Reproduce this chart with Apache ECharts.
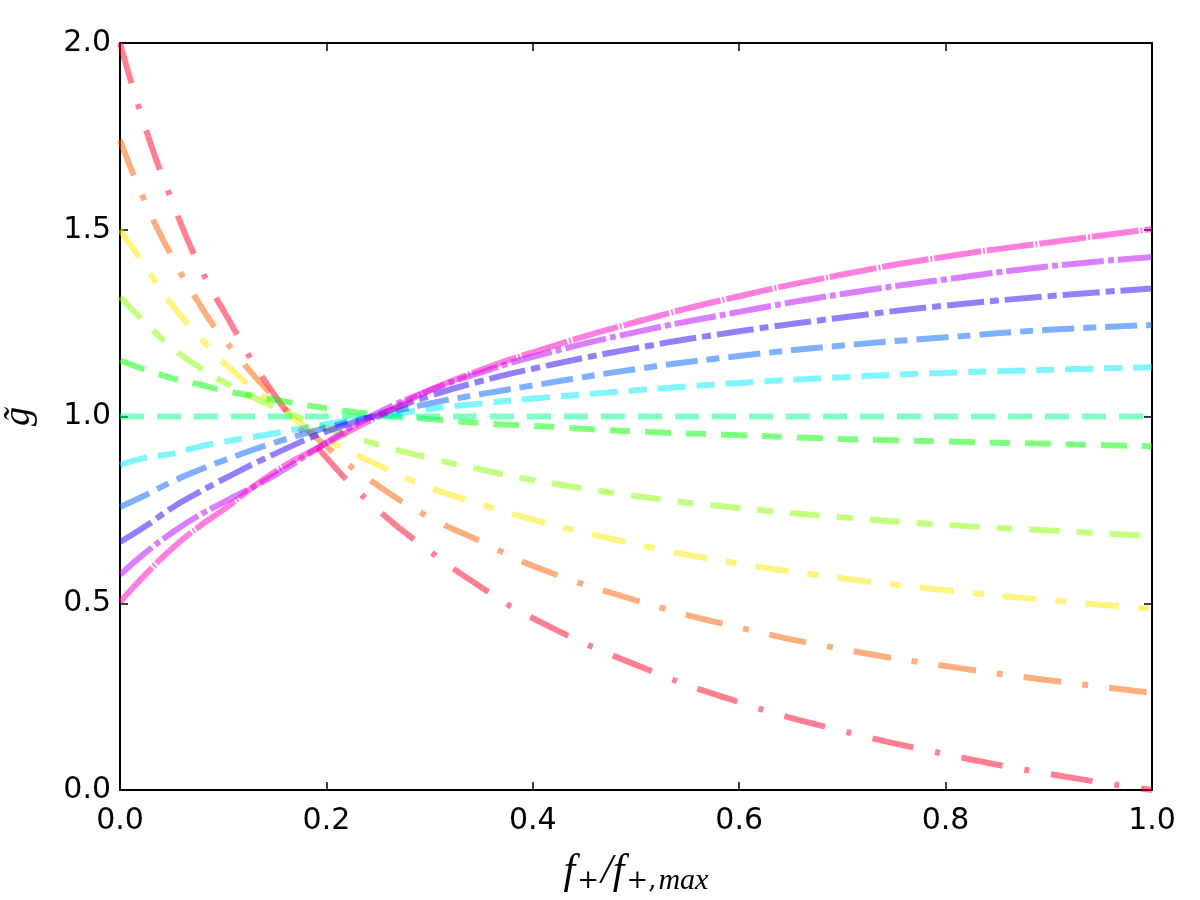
<!DOCTYPE html>
<html lang="en">
<head>
    <meta charset="UTF-8">
    <title>g tilde vs f+/f+,max</title>
    <script src="https://cdn.jsdelivr.net/npm/echarts@6/dist/echarts.min.js"></script>
    <style>
        html, body { margin: 0; padding: 0; background: #fff; }
        #main { width: 1200px; height: 900px; }
    </style>
</head>
<body>
<div id="main"></div>
<script>
    var fRatio = [0, 0.025, 0.05, 0.075, 0.1, 0.15, 0.2, 0.25, 0.3, 0.35, 0.4, 0.5, 0.6, 0.7, 0.8, 0.9, 1.0];

    // one list per curve, top-left (red) to bottom-left (magenta)
    var gRed     = [2.0, 1.77, 1.58, 1.415, 1.285, 1.057, 0.89, 0.75, 0.64, 0.543, 0.46, 0.335, 0.235, 0.158, 0.096, 0.043, 0.0];
    var gOrange  = [1.74, 1.57, 1.43, 1.31, 1.21, 1.05, 0.92, 0.815, 0.73, 0.665, 0.60, 0.508, 0.435, 0.377, 0.332, 0.294, 0.26];
    var gYellow  = [1.50, 1.40, 1.30, 1.22, 1.146, 1.03, 0.94, 0.87, 0.81, 0.765, 0.724, 0.658, 0.606, 0.567, 0.535, 0.508, 0.485];
    var gLime    = [1.32, 1.25, 1.185, 1.135, 1.093, 1.025, 0.97, 0.925, 0.889, 0.858, 0.83, 0.787, 0.755, 0.73, 0.71, 0.695, 0.68];
    var gGreen   = [1.15, 1.125, 1.103, 1.087, 1.07, 1.045, 1.022, 1.005, 0.993, 0.982, 0.975, 0.96, 0.95, 0.94, 0.933, 0.927, 0.92];
    var gSea     = [1.0, 1.0, 1.0, 1.0, 1.0, 1.0, 1.0, 1.0, 1.0, 1.0, 1.0, 1.0, 1.0, 1.0, 1.0, 1.0, 1.0];
    var gCyan    = [0.87, 0.89, 0.90, 0.918, 0.932, 0.955, 0.98, 1.0, 1.02, 1.035, 1.048, 1.07, 1.09, 1.105, 1.117, 1.125, 1.132];
    var gSky     = [0.758, 0.79, 0.825, 0.855, 0.882, 0.93, 0.97, 1.003, 1.035, 1.06, 1.083, 1.127, 1.162, 1.19, 1.212, 1.232, 1.245];
    var gViolet  = [0.664, 0.707, 0.755, 0.795, 0.832, 0.90, 0.96, 1.005, 1.055, 1.095, 1.128, 1.183, 1.228, 1.265, 1.297, 1.322, 1.343];
    var gPurple  = [0.576, 0.636, 0.688, 0.733, 0.77, 0.843, 0.93, 1.01, 1.07, 1.118, 1.16, 1.226, 1.28, 1.328, 1.367, 1.402, 1.427];
    var gMagenta = [0.503, 0.578, 0.645, 0.702, 0.75, 0.852, 0.928, 1.0, 1.07, 1.125, 1.172, 1.253, 1.322, 1.38, 1.428, 1.466, 1.502];

    var xTicks = [0, 0.2, 0.4, 0.6, 0.8, 1.0];
    var yTicks = [0, 0.5, 1.0, 1.5, 2.0];

    var curves = [gRed, gOrange, gYellow, gLime, gGreen, gSea, gCyan, gSky, gViolet, gPurple, gMagenta];

    // gist_rainbow style colours, half transparent
    var colors = [
        'rgba(255,0,40,0.5)', 'rgba(255,96,0,0.5)', 'rgba(255,234,0,0.5)', 'rgba(138,255,0,0.5)',
        'rgba(0,255,0,0.5)', 'rgba(0,255,137,0.5)', 'rgba(0,236,255,0.5)', 'rgba(0,97,255,0.5)',
        'rgba(42,0,255,0.5)', 'rgba(180,0,255,0.5)', 'rgba(255,0,191,0.5)'
    ];
    var dashes = [
        [42, 22, 5, 22], [38, 21, 6, 21], [34, 19, 11, 19], [30, 17, 16, 17],
        [26, 15, 20, 15], [24, 13], [28, 11, 18, 11], [32, 9, 13, 9],
        [37, 6, 9, 6], [42, 4, 6, 4], [47, 2, 2, 2]
    ];

    var series = [];
    for (var i = 0; i < curves.length; i++) {
        var pts = [];
        for (var j = 0; j < fRatio.length; j++) {
            pts.push([fRatio[j], curves[i][j]]);
        }
        series.push({
            type: 'line',
            data: pts,
            showSymbol: false,
            symbol: 'none',
            smooth: 0.5,
            lineStyle: { color: colors[i], width: 6, type: dashes[i], cap: 'butt' }
        });
    }

    var fmt = function (v) { return v.toFixed(1); };
    var tickFont = { fontFamily: 'DejaVu Sans', fontSize: 30, color: '#000' };
    var frameLine = { show: true, onZero: false, lineStyle: { color: '#000', width: 2 } };
    var tick = { show: true, inside: true, length: 8, lineStyle: { color: '#000', width: 1.5 } };

    var chart = echarts.init(document.getElementById('main'));
    chart.setOption({
        animation: false,
        backgroundColor: '#fff',
        grid: { left: 120, right: 48, top: 43, bottom: 110, containLabel: false, outerBoundsMode: 'none' },
        xAxis: [
            {
                type: 'value', min: 0, max: 1, interval: 0.2, position: 'bottom',
                axisLine: frameLine, axisTick: tick, splitLine: { show: false },
                axisLabel: Object.assign({ margin: 16, formatter: fmt, customValues: xTicks }, tickFont),
                name: '{i|f}{s|+}{i|/f}{s|+,}{si|max}',
                nameLocation: 'middle',
                nameGap: 58,
                nameTextStyle: {
                    rich: {
                        i: { fontFamily: 'Liberation Serif', fontStyle: 'italic', fontSize: 42, color: '#000' },
                        s: { fontFamily: 'DejaVu Serif', fontSize: 26, color: '#000', padding: [18, 2, 0, 2] },
                        si: { fontFamily: 'Liberation Serif', fontStyle: 'italic', fontSize: 30, color: '#000', padding: [18, 0, 0, 0] }
                    }
                }
            },
            {
                type: 'value', min: 0, max: 1, interval: 0.2, position: 'top',
                axisLine: frameLine, axisTick: tick, axisLabel: { show: false }, splitLine: { show: false }
            }
        ],
        yAxis: [
            {
                type: 'value', min: 0, max: 2, interval: 0.5, position: 'left',
                axisLine: frameLine, axisTick: tick, splitLine: { show: false },
                axisLabel: Object.assign({ margin: 9, formatter: fmt, customValues: yTicks }, tickFont),
                name: 'g\u0303',
                nameLocation: 'middle',
                nameGap: 82,
                nameTextStyle: { fontFamily: 'Liberation Serif', fontStyle: 'italic', fontSize: 38, color: '#000' }
            },
            {
                type: 'value', min: 0, max: 2, interval: 0.5, position: 'right',
                axisLine: frameLine, axisTick: tick, axisLabel: { show: false }, splitLine: { show: false }
            }
        ],
        series: series
    });
</script>
</body>
</html>
